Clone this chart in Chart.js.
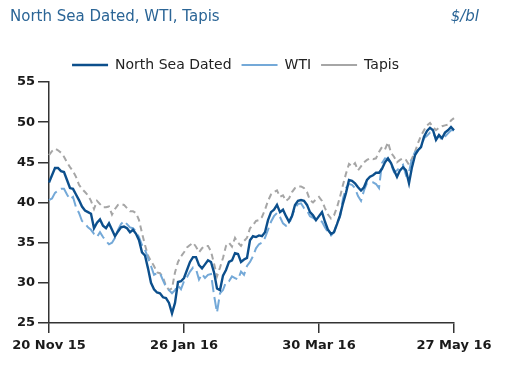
<!DOCTYPE html>
<html>
<head>
<meta charset="utf-8">
<script src="https://cdn.jsdelivr.net/npm/chart.js@4.4.0/dist/chart.umd.min.js"></script>
<style>
  html, body { margin: 0; padding: 0; background: #fff; }
  #wrap { position: relative; width: 512px; height: 371px; }
  canvas { position: absolute; left: 0; top: 0; }
  .head { position: absolute; top: 7px; line-height: 18px; font-family: 'DejaVu Sans', sans-serif; font-size: 15px; color: #2b6596; }
  #title { left: 10px; }
  #unit { right: 33px; font-style: italic; }
</style>
</head>
<body>
<div id="wrap">
  <canvas id="oilChart" width="512" height="371"></canvas>
  <div class="head" id="title">North Sea Dated, WTI, Tapis</div>
  <div class="head" id="unit">$/bl</div>
</div>
<script>
/*declare data*/
const tickLabels = ['20 Nov 15', '26 Jan 16', '30 Mar 16', '27 May 16'];
const tickIndex = [0, 45, 90, 135];

const northSea = [42.5,43.4,44.3,44.3,43.9,43.8,42.8,41.8,41.7,41.0,
  40.3,39.5,39.0,38.8,38.6,36.8,37.5,37.9,37.1,36.8,
  37.4,36.6,35.8,36.4,36.9,37.0,36.8,36.3,36.6,36.1,
  35.3,33.8,33.4,31.8,30.0,29.2,28.8,28.7,28.2,28.1,
  27.5,26.2,27.5,30.1,30.2,30.6,31.6,32.6,33.2,33.2,
  32.2,31.8,32.3,32.8,32.6,31.3,29.3,29.1,30.9,31.6,
  32.6,32.8,33.7,33.6,32.6,32.9,33.1,35.3,35.8,35.7,
  35.9,35.8,36.3,37.8,38.8,39.1,39.7,38.8,39.1,38.3,
  37.6,38.3,39.7,40.2,40.3,40.2,39.7,38.8,38.4,37.8,
  38.3,38.8,37.6,36.6,36.1,36.3,37.3,38.4,39.9,41.2,
  42.8,42.7,42.4,41.9,41.5,41.9,42.8,43.2,43.4,43.7,
  43.7,44.2,45.0,45.5,44.9,44.0,43.2,44.0,44.4,44.0,
  42.4,44.4,45.9,46.5,46.9,48.2,48.9,49.3,49.0,47.8,
  48.4,48.0,48.7,49.0,49.4,49.0];

const wti = [40.3,40.5,41.2,41.5,41.7,41.7,41.0,40.4,40.7,39.4,
  38.7,37.7,37.4,36.9,36.6,36.1,35.7,36.3,35.7,35.2,
  34.8,35.0,35.6,36.6,37.3,37.7,37.3,36.9,36.8,36.4,
  35.7,34.7,34.1,33.1,32.1,31.0,31.2,31.2,30.3,29.5,
  29.1,28.7,29.1,29.7,29.2,30.2,30.7,31.4,31.9,31.7,
  30.4,31.1,30.6,31.0,31.1,28.5,26.3,28.7,29.1,30.1,
  30.2,30.8,30.6,30.4,31.4,31.0,32.1,32.6,33.3,34.3,
  34.8,35.0,35.6,36.6,37.6,38.3,38.7,38.2,37.4,37.1,
  37.3,38.3,39.3,39.8,39.9,39.3,39.0,38.3,38.1,37.8,
  37.8,37.6,36.9,36.3,35.9,36.3,37.4,38.2,40.5,41.8,
  42.3,42.2,41.8,40.8,40.2,41.5,42.4,42.4,42.5,42.3,
  41.8,44.9,45.5,45.4,44.7,43.8,44.0,44.4,44.7,43.4,
  43.8,45.5,46.3,46.5,46.9,48.0,48.3,48.7,48.7,48.0,
  48.3,47.8,48.2,48.6,49.0,49.0];

const tapis = [45.9,46.4,46.7,46.5,46.2,45.7,45.0,44.4,43.9,43.2,
  42.2,41.7,41.3,40.9,40.2,39.2,40.2,39.8,39.4,39.4,
  39.5,38.5,39.2,39.7,39.8,39.7,39.3,38.9,38.9,38.7,
  37.8,36.2,34.7,33.4,32.7,32.1,31.3,31.2,30.7,29.6,
  29.1,29.3,31.3,32.6,33.3,33.8,34.4,34.7,35.0,34.5,
  33.8,34.3,34.6,34.6,33.9,32.4,30.8,31.9,33.1,34.6,
  35.0,34.5,35.6,35.0,34.6,35.2,35.6,36.8,37.2,37.7,
  37.8,38.2,39.1,40.2,41.0,41.3,41.5,40.7,40.9,40.2,
  40.5,41.3,41.8,42.0,42.0,41.8,41.3,40.3,40.0,40.4,
  40.7,40.2,39.3,38.5,38.0,38.4,39.4,40.7,42.2,43.6,
  44.8,44.5,44.9,44.0,44.5,45.0,45.3,45.5,45.4,45.5,
  46.3,46.9,46.6,47.5,46.2,45.7,45.0,45.3,45.5,45.3,
  44.7,45.5,46.3,47.4,48.3,49.0,49.6,49.9,49.4,49.0,
  49.3,49.5,49.6,49.7,50.2,50.5];

const days = northSea.map((v, i) => i);

/*wire the options together*/
const data = {
  labels: days,
  datasets: [{
    label: 'North Sea Dated',
    data: northSea,
    borderColor: '#0c4f8c',
    borderWidth: 2.4,
  }, {
    label: 'WTI',
    data: wti,
    borderColor: '#74a9d8',
    borderWidth: 2,
    borderDash: [12, 5],
  }, {
    label: 'Tapis',
    data: tapis,
    borderColor: '#a6a6a6',
    borderWidth: 2,
    borderDash: [6, 4],
  }]
};

const tickFont = { family: 'DejaVu Sans', size: 13, weight: 'bold' };

const config = {
  type: 'line',
  data,
  options: {
    responsive: false,
    animation: false,
    devicePixelRatio: 1,
    layout: { padding: { top: 48, right: 58, left: 17, bottom: 0 } },
    elements: {
      point: { radius: 0 },
      line: { tension: 0, fill: false }
    },
    plugins: {
      tooltip: { enabled: false },
      legend: {
        labels: {
          usePointStyle: true,
          pointStyle: 'line',
          pointStyleWidth: 36,
          color: '#222',
          font: { family: 'DejaVu Sans', size: 14 },
          padding: 10
        }
      }
    },
    scales: {
      x: {
        type: 'category',
        grid: { drawOnChartArea: false, tickLength: 10, color: '#333', lineWidth: 1.5 },
        border: { color: '#333', width: 1.5 },
        ticks: {
          autoSkip: false,
          maxRotation: 0,
          padding: 5,
          color: '#1a1a1a',
          font: tickFont,
          callback: (val, i) => {
            const k = tickIndex.indexOf(i);
            return k >= 0 ? tickLabels[k] : null;
          }
        },
        afterFit: (scale) => { scale.height = 48; }
      },
      y: {
        min: 25,
        max: 55,
        grid: { drawOnChartArea: false, tickLength: 11, color: '#333', lineWidth: 1.5 },
        border: { color: '#333', width: 1.5 },
        ticks: { stepSize: 5, padding: 3, color: '#1a1a1a', font: tickFont },
        afterFit: (scale) => { scale.width = 32; }
      }
    }
  }
};

/*create chart*/
var oilChart = new Chart(document.getElementById('oilChart'), config);
</script>
</body>
</html>
